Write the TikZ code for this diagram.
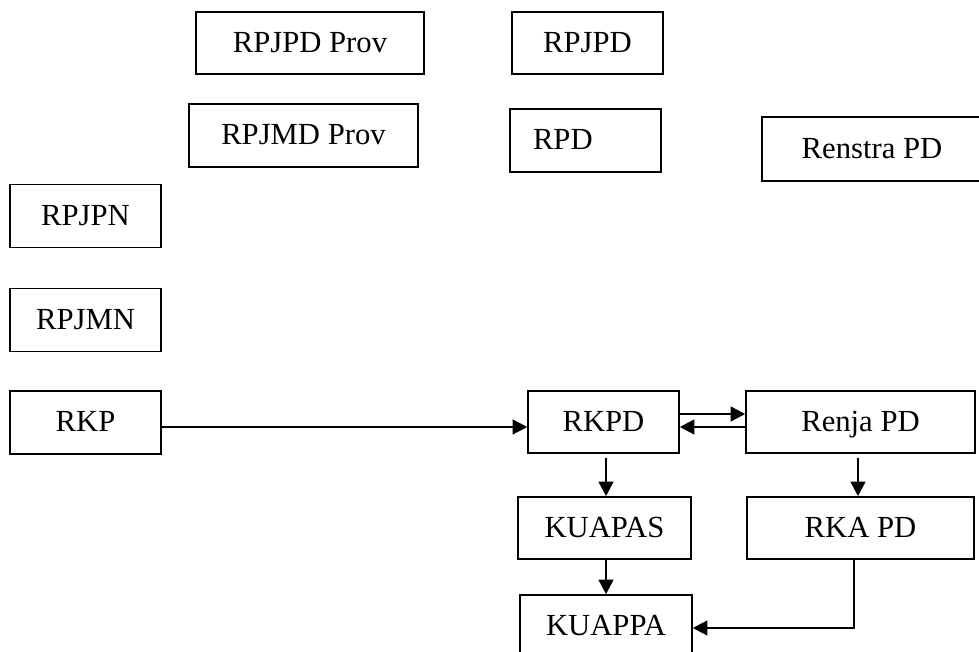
\documentclass[tikz,border=0pt]{standalone}
\usepackage{fontspec}
\setmainfont{Liberation Serif}
\usetikzlibrary{arrows.meta,calc}

\begin{document}
\begin{tikzpicture}[x=0.75pt, y=-0.75pt,
  box/.style={draw, line width=1.1pt, inner sep=0pt, minimum height=62*0.75pt,
    text height=17pt, text depth=3pt, font=\fontsize{23}{27}\selectfont},
  arr/.style={line width=1.8pt, -{Triangle[length=11pt, width=11pt]}}]
\useasboundingbox (0,0) rectangle (979,652);

\node[box, minimum width=228*0.75pt] (rpjpdprov) at (310,43) {RPJPD Prov};
\node[box, minimum width=151*0.75pt] (rpjpd) at (587.5,43) {RPJPD};
\node[box, minimum width=229*0.75pt, minimum height=63*0.75pt] (rpjmdprov) at (303.5,135.5) {RPJMD Prov};
\node[box, inner xsep=17.25pt, text width=78.75pt, align=left, minimum height=63*0.75pt] (rpd) at (585.5,140.5) {RPD};
\node[box, minimum width=220*0.75pt, minimum height=64*0.75pt] (renstra) at (872,149) {Renstra PD};

\foreach \n/\t/\y in {rpjpn/RPJPN/216, rpjmn/RPJMN/320, rkp/RKP/422.5}
{
\node[box, minimum width=151*0.75pt, minimum height=63*0.75pt] (\n) at (85.5,\y) {\t};
}

\node[box, minimum width=151*0.75pt] (rkpd) at (603.5,422) {RKPD};
\node[box, minimum width=229*0.75pt] (renja) at (860.5,422) {Renja PD};
\node[box, minimum width=173*0.75pt] (kuapas) at (604.5,528) {KUAPAS};
\node[box, minimum width=227*0.75pt] (rka) at (860.5,528) {RKA PD};
\node[box, minimum width=172*0.75pt] (kuappa) at (606,626) {KUAPPA};

\coordinate (rkpout) at ($(rkp.east)+(0,4.5)$);
\coordinate (rkpdout) at ($(rkpd.east)+(0,-8)$);
\coordinate (renjaout) at ($(renja.west)+(0,5)$);
\coordinate (rkpddown) at ($(rkpd.south)+(2.5,4)$);
\coordinate (renjadown) at ($(renja.south)+(-2.5,4)$);
\coordinate (kuapasdown) at ($(kuapas.south)+(1.5,0)$);
\coordinate (rkadown) at ($(rka.south)+(-6.5,0)$);
\coordinate (kuappain) at ($(kuappa.east)+(0,2)$);

\draw[arr] (rkpout) -- (rkpout -| rkpd.west);
\draw[arr] (rkpdout) -- (rkpdout -| renja.west);
\draw[arr] (renjaout) -- (renjaout -| rkpd.east);
\draw[arr] (rkpddown) -- (rkpddown |- kuapas.north);
\draw[arr] (renjadown) -- (renjadown |- rka.north);
\draw[arr] (kuapasdown) -- (kuapasdown |- kuappa.north);
\draw[arr] (rkadown) |- (kuappain);
\end{tikzpicture}
\end{document}
